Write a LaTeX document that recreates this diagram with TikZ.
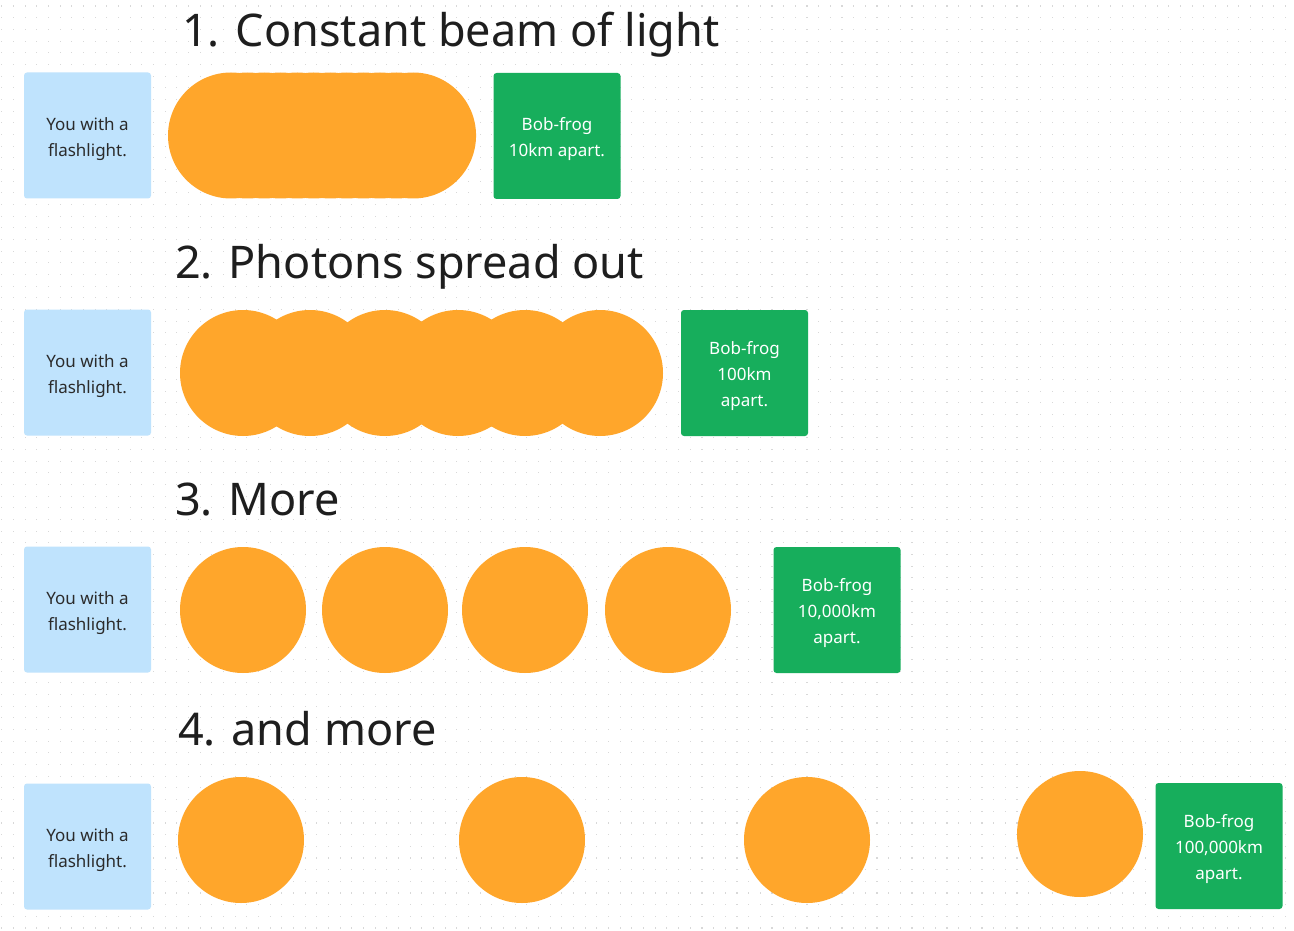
\documentclass[tikz,border=0pt]{standalone}
\usepackage{fontspec}
\setmainfont{Noto Sans}
\definecolor{youblue}{HTML}{BFE3FD}
\definecolor{frog}{HTML}{17AE5C}
\definecolor{photon}{HTML}{FFA62B}
\definecolor{titlec}{HTML}{1E1E1E}
\definecolor{boxtext}{HTML}{2B2B2B}
\definecolor{dotc}{HTML}{D8D8D8}
\tikzset{
  youbox/.style={fill=youblue, rounded corners=3pt, minimum width=127pt, minimum height=126pt, inner sep=0pt},
  frogbox/.style={fill=frog, rounded corners=3pt, minimum width=127pt, minimum height=126pt, inner sep=0pt},
  youtext/.style={inner sep=0pt, yshift=-3.5pt, align=center, text=boxtext, font=\fontsize{17}{26}\selectfont},
  frogtext/.style={inner sep=0pt, yshift=-3.5pt, align=center, text=white, font=\fontsize{17}{26}\selectfont},
  photonc/.style={circle, fill=photon, minimum size=126pt, inner sep=0pt},
  titletext/.style={anchor=base west, inner sep=0pt, text=titlec, font=\fontsize{45}{50}\selectfont}
}
\begin{document}
\begin{tikzpicture}[x=1pt,y=-1pt]
\useasboundingbox (0,0) rectangle (1294,931);
\fill[white] (0,0) rectangle (1294,931);
\foreach \i in {0,...,110} {
  \foreach \j in {0,...,79} {
    \fill[dotc] (1.2+11.67*\i, 5.5+11.67*\j) rectangle ++(1.1,1.1);
  }
}
% titles
\node[titletext] (t1) at (182,47) {1.\hspace{0.35em}Constant beam of light};
\node[titletext] (t2) at (175,278) {2.\hspace{0.35em}Photons spread out};
\node[titletext] (t3) at (175,515) {3.\hspace{0.35em}More};
\node[titletext] (t4) at (178,745) {4.\hspace{0.35em}and more};
% row 1
\node[youbox] (y1) at (87.5,135.5) {};
\node[youtext] (y1t) at (y1.center) {You with a\\flashlight.};
\foreach \k in {0,...,11} {
  \node[photonc] (p1\k) at (231+16.55*\k,135.5) {};
}
\node[frogbox] (f1) at (557,136) {};
\node[frogtext] (f1t) at (f1.center) {Bob-frog\\10km apart.};
% row 2
\node[youbox] (y2) at (87.5,372.5) {};
\node[youtext] (y2t) at (y2.center) {You with a\\flashlight.};
\node[photonc] (p21) at (243,373) {};
\node[photonc] (p22) at (310,373) {};
\node[photonc] (p23) at (385,373) {};
\node[photonc] (p24) at (458,373) {};
\node[photonc] (p25) at (525,373) {};
\node[photonc] (p26) at (600,373) {};
\node[frogbox] (f2) at (744.5,373) {};
\node[frogtext] (f2t) at (f2.center) {Bob-frog\\100km\\apart.};
% row 3
\node[youbox] (y3) at (87.5,609.5) {};
\node[youtext] (y3t) at (y3.center) {You with a\\flashlight.};
\node[photonc] (p31) at (243,610) {};
\node[photonc] (p32) at (385,610) {};
\node[photonc] (p33) at (525,610) {};
\node[photonc] (p34) at (668,610) {};
\node[frogbox] (f3) at (837,610) {};
\node[frogtext] (f3t) at (f3.center) {Bob-frog\\10,000km\\apart.};
% row 4
\node[youbox] (y4) at (87.5,846.5) {};
\node[youtext] (y4t) at (y4.center) {You with a\\flashlight.};
\node[photonc] (p41) at (241,840) {};
\node[photonc] (p42) at (522,840) {};
\node[photonc] (p43) at (807,840) {};
\node[photonc] (p44) at (1080,834) {};
\node[frogbox] (f4) at (1219,846) {};
\node[frogtext] (f4t) at (f4.center) {Bob-frog\\100,000km\\apart.};
\end{tikzpicture}
\end{document}
